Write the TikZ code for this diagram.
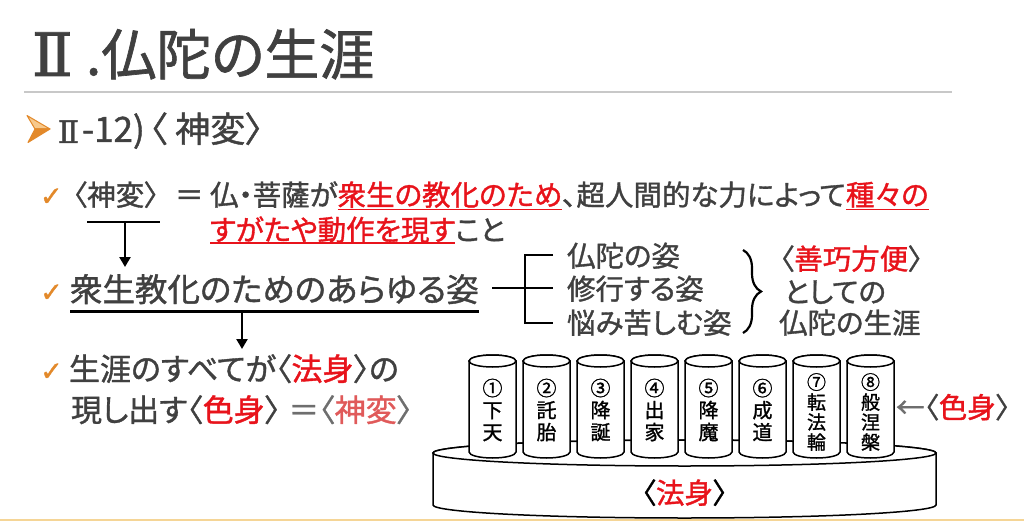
\documentclass[tikz,border=0pt]{standalone}
\usepackage{fontspec}
\setmainfont{Noto Sans CJK JP}[RawFeature=+palt, FakeBold=1.2]
\newfontfamily\dejavu{DejaVu Sans}[FakeBold=1.2]
\newfontfamily\dvserif{DejaVu Serif}[FakeBold=1.5]
\usetikzlibrary{arrows.meta,calc,decorations.pathreplacing}
\definecolor{txt}{HTML}{404040}
\definecolor{red1}{HTML}{E8131B}
\definecolor{org}{HTML}{E3892A}
\definecolor{orgl}{HTML}{F7C98C}
\definecolor{rulec}{HTML}{C8C8C8}
\definecolor{band}{HTML}{F5D596}
\definecolor{fadegray}{HTML}{6E6E6E}
\definecolor{fadered}{HTML}{E05A5A}
\newcommand\chkmark{\makebox[33pt][l]{\dejavu\fontsize{27}{27}\selectfont\textcolor{org}{✓}}}
\begin{document}
\begin{tikzpicture}[x=1pt,y=-1pt,
  t/.style={inner sep=0pt, outer sep=0pt, anchor=base west, text=txt, font=\fontsize{28.5}{28.5}\selectfont},
  tb/.style={t, font=\fontsize{31}{31}\selectfont},
  rt/.style={t, text=red1},
  chk/.style={inner sep=0pt, anchor=base west, text=org, font=\dejavu\fontsize{27}{27}\selectfont},
  conn/.style={line width=2.4pt, black},
  arr/.style={line width=2.4pt, black, -{Triangle[width=11pt,length=10pt]}},
  redul/.style={line width=1.8pt, red1},
  cyl/.style={line width=1.5pt, black, fill=white},
  pil/.style={inner sep=0pt, align=center, text=black}]
\useasboundingbox (0,0) rectangle (1024,521);
\fill[white] (0,0) rectangle (1024,521);
\fill[band] (0,519) rectangle (1024,521);

% title
\node[t, font=\dvserif\fontsize{60}{60}\selectfont] (title1) at (32,76) {Ⅱ};
\node[t, font=\fontsize{55}{55}\selectfont] (title2) at (86,75) {.仏陀の生涯};
\draw[rulec, line width=2pt] (24,92) -- (952,92);

% subtitle bullet (drawn arrowhead)
\filldraw[draw=org, fill=orgl, line width=1pt, line join=round] (27,115.5) -- (50,129) -- (35,129) -- cycle;
\filldraw[draw=org, fill=org, line width=1pt, line join=round] (35,129) -- (50,129) -- (28,142.5) -- cycle;
\node[t, font=\dvserif\fontsize{31}{31}\selectfont] (sub1) at (58,143) {Ⅱ};
\node[t, font=\fontsize{35}{35}\selectfont] (sub2) at (82,142) {-12)\hspace{5pt}〈\hspace{8pt}神変〉};

% line 1
\node[t] (l1a) at (40,205.5) {\chkmark〈神変〉};
\node[t] (l1eq) at (175,205.5) {＝};
\node[t] (l1b) at (210,205.5) {仏・菩薩が};
\node[rt] (l1c) at (l1b.base east) {衆生の教化のため};
\node[t] (l1d) at (l1c.base east) {、超人間的な力によって};
\node[rt] (l1e) at (l1d.base east) {種々の};
\draw[redul] ($(l1c.base west)+(0,4)$) -- ($(l1c.base east)+(0,4)$);
\draw[redul] ($(l1e.base west)+(0,4)$) -- ($(l1e.base east)+(0,4)$);

% line 2
\node[rt] (l2a) at (210,240.5) {すがたや動作を現す};
\node[t] (l2b) at (l2a.base east) {こと};
\draw[redul] ($(l2a.base west)+(0,2.5)$) -- ($(l2a.base east)+(0,2.5)$);

% T arrow 1
\coordinate (t1l) at (87,222);
\coordinate (t1r) at (160,222);
\coordinate (t1m) at (125,222);
\coordinate (t1e) at (125,267);
\draw[conn] (t1l) -- (t1r);
\draw[arr] (t1m) -- (t1e);

% line 3
\node[chk] (c3) at (40,301.5) {✓};
\node[t, font=\fontsize{32.5}{32.5}\selectfont] (l3) at (70,301.5) {衆生教化のためのあらゆる姿};
\draw[line width=3pt, black] ($(l3.base west)+(0,9.5)$) -- ($(l3.base east)+(0,9.5)$);
\coordinate (a2s) at (242,311);
\coordinate (a2e) at (242,349);
\draw[arr] (a2s) -- (a2e);

% bracket
\coordinate (bj) at (492,288);
\coordinate (bt) at (525,255);
\coordinate (bb) at (525,323);
\coordinate (bm) at (553,288);
\coordinate (btt) at (553,255);
\coordinate (bbb) at (553,323);
\draw[conn] (bj) -- (bm);
\draw[conn] (btt) -- (bt) -- (bb) -- (bbb);

\node[t] (i1) at (567,266.5) {仏陀の姿};
\node[t] (i2) at (567,299.5) {修行する姿};
\node[t] (i3) at (567,333.5) {悩み苦しむ姿};

% brace
\coordinate (brt) at (743,250);
\coordinate (brb) at (743,333);
\draw[line width=2.2pt, black, decorate, decoration={brace, amplitude=18pt, aspect=0.5}] (brt) -- (brb);

\node[t] (r1) at (780,269.5) {〈\textcolor{red1}{善巧方便}〉};
\node[t] (r2) at (784,302.5) {としての};
\node[t] (r3) at (779,333.5) {仏陀の生涯};

% line 4, 5
\node[chk] (c4) at (40,380.5) {✓};
\node[tb] (l4) at (69,380.5) {生涯のすべてが〈\textcolor{red1}{法身}〉の};
\node[tb] (l5) at (71,421.5) {現し出す〈\textcolor{red1}{色身}〉\hspace{8pt}\textcolor{fadegray}{＝〈}\textcolor{fadered}{神変}\textcolor{fadegray}{〉}};

% base
\filldraw[cyl] (433,453) -- (433,505) arc[start angle=180,end angle=360,x radius=251.5pt,y radius=13pt] -- (936,453) arc[start angle=0,end angle=180,x radius=251.5pt,y radius=13pt] -- cycle;
\draw[cyl] (684.5,453) ellipse [x radius=251.5pt, y radius=13pt];

% pillars
\foreach \i/\lbl/\fs/\ls/\cy in {1/{①\\下\\天}/20/22/410, 2/{②\\託\\胎}/20/22/410, 3/{③\\降\\誕}/20/22/410, 4/{④\\出\\家}/20/22/410, 5/{⑤\\降\\魔}/20/22/410, 6/{⑥\\成\\道}/20/22/410, 7/{⑦\\転\\法\\輪}/19/20/412, 8/{⑧\\般\\涅\\槃}/19/20/412}{
  \pgfmathsetmacro\cx{492.5+54*(\i-1)}
  \filldraw[cyl] (\cx-23.5,361) -- (\cx-23.5,452) arc[start angle=180,end angle=360,x radius=23.5pt,y radius=6pt] -- (\cx+23.5,361) arc[start angle=0,end angle=180,x radius=23.5pt,y radius=6pt] -- cycle;
  \draw[cyl] (\cx,361) ellipse [x radius=23.5pt, y radius=6pt];
  \node[pil, font=\fontsize{\fs}{\ls}\selectfont] (p\i) at (\cx,\cy) {\lbl};
}

\node[t, anchor=base, text=black] (hk) at (684.5,503.5) {〈\textcolor{red1}{法身}〉};
\node[t] (sk) at (896,418) {\textcolor{fadegray}{←}〈\textcolor{red1}{色身}〉};
\end{tikzpicture}
\end{document}
